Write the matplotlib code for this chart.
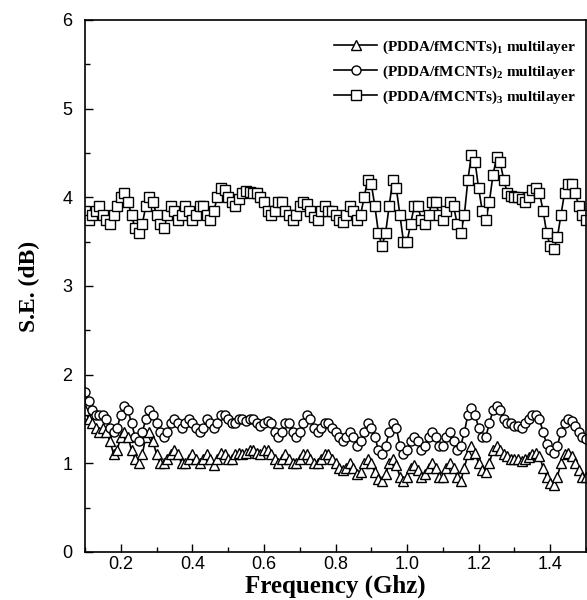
import numpy as np
import matplotlib
matplotlib.use("Agg")
import matplotlib.pyplot as plt
from matplotlib.ticker import MultipleLocator

freq = np.round(np.arange(0.10, 1.5001, 0.01), 2)

se_layer1 = [
    1.60, 1.50, 1.45, 1.40, 1.35, 1.40, 1.35, 1.25, 1.10, 1.15,
    1.30, 1.35, 1.30, 1.15, 1.05, 1.00, 1.10, 1.30, 1.35, 1.25,
    1.10, 1.00, 1.00, 1.05, 1.10, 1.15, 1.10, 1.00, 1.00, 1.05,
    1.10, 1.05, 1.00, 1.05, 1.10, 1.05, 0.98, 1.05, 1.12, 1.10,
    1.05, 1.05, 1.10, 1.12, 1.10, 1.12, 1.15, 1.15, 1.12, 1.10,
    1.15, 1.15, 1.10, 1.05, 1.00, 1.05, 1.10, 1.05, 1.00, 1.00,
    1.05, 1.10, 1.10, 1.05, 1.00, 1.00, 1.05, 1.10, 1.10, 1.05,
    1.00, 0.95, 0.92, 0.95, 1.00, 0.95, 0.88, 0.90, 1.00, 1.05,
    1.00, 0.90, 0.82, 0.80, 0.88, 1.00, 1.05, 0.98, 0.85, 0.80,
    0.85, 0.95, 0.98, 0.92, 0.85, 0.88, 0.95, 1.00, 0.95, 0.85,
    0.85, 0.95, 1.00, 0.95, 0.85, 0.80, 0.95, 1.10, 1.20, 1.12,
    1.00, 0.92, 0.90, 1.00, 1.15, 1.20, 1.15, 1.10, 1.08, 1.05,
    1.05, 1.05, 1.03, 1.05, 1.07, 1.10, 1.12, 1.08, 0.95, 0.85,
    0.78, 0.76, 0.85, 1.00, 1.10, 1.12, 1.08, 1.00, 0.92, 0.85,
    0.85,
]

se_layer2 = [
    1.80, 1.70, 1.60, 1.55, 1.55, 1.55, 1.50, 1.40, 1.35, 1.40,
    1.55, 1.65, 1.60, 1.45, 1.30, 1.25, 1.35, 1.50, 1.60, 1.55,
    1.45, 1.35, 1.30, 1.35, 1.45, 1.50, 1.45, 1.40, 1.45, 1.50,
    1.45, 1.40, 1.35, 1.40, 1.50, 1.45, 1.40, 1.45, 1.55, 1.55,
    1.50, 1.45, 1.45, 1.50, 1.50, 1.48, 1.50, 1.50, 1.45, 1.42,
    1.45, 1.48, 1.45, 1.35, 1.30, 1.35, 1.45, 1.45, 1.35, 1.30,
    1.35, 1.45, 1.55, 1.50, 1.40, 1.35, 1.40, 1.45, 1.45, 1.40,
    1.35, 1.30, 1.25, 1.30, 1.35, 1.30, 1.20, 1.25, 1.35, 1.45,
    1.40, 1.30, 1.15, 1.10, 1.20, 1.35, 1.45, 1.40, 1.20, 1.10,
    1.15, 1.25, 1.30, 1.25, 1.15, 1.20, 1.30, 1.35, 1.30, 1.20,
    1.20, 1.30, 1.35, 1.25, 1.15, 1.20, 1.35, 1.55, 1.62, 1.55,
    1.40, 1.30, 1.30, 1.45, 1.60, 1.65, 1.60, 1.50, 1.45, 1.45,
    1.42, 1.42, 1.40, 1.45, 1.50, 1.55, 1.55, 1.50, 1.35, 1.22,
    1.15, 1.12, 1.20, 1.35, 1.45, 1.50, 1.48, 1.42, 1.35, 1.30,
    1.28,
]

se_layer3 = [
    3.85, 3.75, 3.80, 3.85, 3.90, 3.80, 3.75, 3.70, 3.80, 3.90,
    4.00, 4.05, 3.95, 3.80, 3.65, 3.60, 3.70, 3.90, 4.00, 3.95,
    3.80, 3.70, 3.65, 3.80, 3.90, 3.85, 3.75, 3.80, 3.90, 3.85,
    3.75, 3.80, 3.90, 3.90, 3.80, 3.75, 3.85, 4.00, 4.10, 4.08,
    4.00, 3.95, 3.90, 3.98, 4.05, 4.07, 4.06, 4.05, 4.05, 4.00,
    3.95, 3.85, 3.80, 3.85, 3.95, 3.95, 3.85, 3.80, 3.75, 3.80,
    3.90, 3.95, 3.92, 3.85, 3.78, 3.75, 3.85, 3.90, 3.85, 3.85,
    3.80, 3.75, 3.72, 3.80, 3.90, 3.85, 3.75, 3.80, 4.00, 4.20,
    4.15, 3.90, 3.60, 3.45, 3.60, 3.90, 4.20, 4.10, 3.80, 3.50,
    3.50, 3.70, 3.90, 3.90, 3.75, 3.70, 3.80, 3.95, 3.95, 3.80,
    3.75, 3.85, 3.95, 3.90, 3.70, 3.60, 3.80, 4.20, 4.48, 4.40,
    4.10, 3.85, 3.75, 3.95, 4.25, 4.45, 4.40, 4.20, 4.05, 4.02,
    4.00, 4.00, 3.98, 3.95, 4.00, 4.08, 4.10, 4.05, 3.85, 3.60,
    3.45, 3.42, 3.55, 3.80, 4.05, 4.15, 4.15, 4.05, 3.90, 3.80,
    3.75,
]

labels = [r"(PDDA/fMCNTs)$_\mathbf{1}$ multilayer",
          r"(PDDA/fMCNTs)$_\mathbf{2}$ multilayer",
          r"(PDDA/fMCNTs)$_\mathbf{3}$ multilayer"]
markers = ["^", "o", "s"]

plt.rcParams["font.family"] = ["Liberation Sans", "DejaVu Sans"]
plt.rcParams["mathtext.fontset"] = "custom"
plt.rcParams["mathtext.bf"] = "Liberation Serif:bold"
plt.rcParams["mathtext.rm"] = "Liberation Serif:bold"

fig = plt.figure(figsize=(5.87, 6.0), dpi=100)
ax = fig.add_axes([85 / 587, 1 - 552 / 600, 501 / 587, 532 / 600])

for ys, m, lab in zip([se_layer1, se_layer2, se_layer3], markers, labels):
    ax.plot(freq, ys, color="black", lw=1.2, marker=m, markersize=6.5,
            markerfacecolor="white", markeredgecolor="black",
            markeredgewidth=1.0, label=lab)

ax.set_xlim(0.1, 1.5)
ax.set_ylim(0, 6)
ax.xaxis.set_minor_locator(MultipleLocator(0.1))
ax.yaxis.set_major_locator(MultipleLocator(1))
ax.yaxis.set_minor_locator(MultipleLocator(0.5))
ax.set_xticks(np.arange(0.2, 1.41, 0.2))
ax.set_xticklabels(["0.2", "0.4", "0.6", "0.8", "1.0", "1.2", "1.4"])
ax.tick_params(axis="both", which="both", direction="in", top=False, right=False,
               labelsize=13)
ax.tick_params(axis="y", pad=9)
ax.tick_params(axis="x", pad=3)
ax.tick_params(which="major", length=6, width=1.0)
ax.tick_params(which="minor", length=3.5, width=1.0)
for sp in ax.spines.values():
    sp.set_linewidth(1.2)

ax.set_xlabel("Frequency (Ghz)", fontsize=18, fontweight="bold",
              family="Liberation Serif", labelpad=1)
ax.set_ylabel("S.E. (dB)", fontsize=17, fontweight="bold",
              family="Liberation Serif", labelpad=16)

leg = ax.legend(loc="upper right", bbox_to_anchor=(1.0, 0.985), frameon=False,
                handlelength=2.8, handletextpad=0.3, labelspacing=0.5,
                borderaxespad=0.3,
                prop={"family": "Liberation Serif", "weight": "bold", "size": 11})

fig.savefig("out.png", dpi=100)
